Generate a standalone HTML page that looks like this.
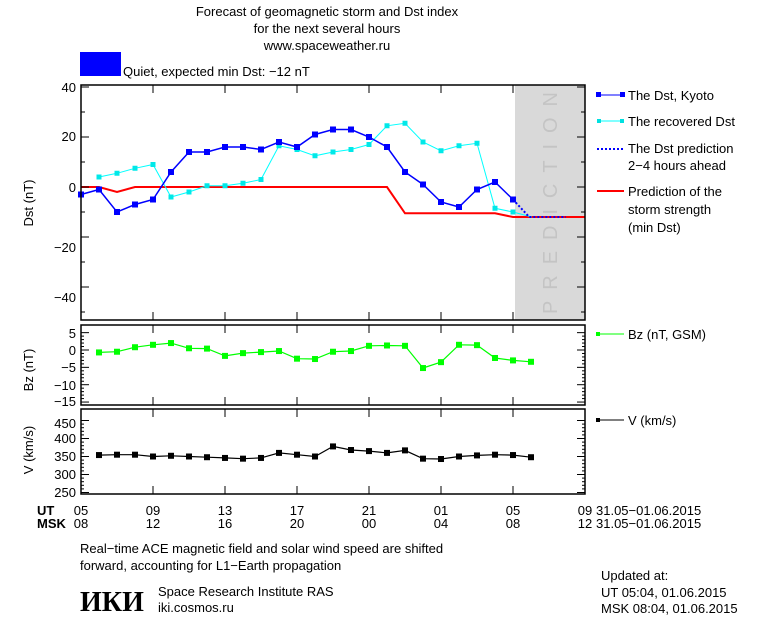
<!DOCTYPE html>
<html><head><meta charset="utf-8"><style>
html,body{margin:0;padding:0;background:#fff;width:760px;height:620px;overflow:hidden}
svg{display:block}
text{font-family:"Liberation Sans",sans-serif;font-size:13px;fill:#000}
</style></head><body>
<svg id="s" width="760" height="620" xmlns="http://www.w3.org/2000/svg">
<text x="327" y="16" text-anchor="middle" font-size="14">Forecast of geomagnetic storm and Dst index</text>
<text x="327" y="33" text-anchor="middle" font-size="14">for the next several hours</text>
<text x="327" y="50" text-anchor="middle" font-size="14">www.spaceweather.ru</text>
<rect x="80" y="52" width="41" height="24" fill="#0000ff"/>
<text x="123" y="76" font-size="14">Quiet, expected min Dst: −12 nT</text>
<rect x="515" y="85" width="70" height="235" fill="#d9d9d9"/>
<text transform="translate(557,314) rotate(-90)" font-size="20" textLength="222" lengthAdjust="spacing" style="fill:#c4c4c4;font-size:20px">PREDICTION</text>
<g id="g"></g>
<text transform="translate(33,203) rotate(-90)" text-anchor="middle">Dst (nT)</text>
<text transform="translate(33,370) rotate(-90)" text-anchor="middle">Bz (nT)</text>
<text transform="translate(33,450) rotate(-90)" text-anchor="middle">V (km/s)</text>
<g text-anchor="end">
<text x="76" y="92">40</text><text x="76" y="141">20</text><text x="76" y="192">0</text><text x="76" y="252">−20</text><text x="76" y="302">−40</text>
<text x="76" y="338">5</text><text x="76" y="355">0</text><text x="76" y="372">−5</text><text x="76" y="390">−10</text><text x="76" y="406">−15</text>
<text x="76" y="428">450</text><text x="76" y="443">400</text><text x="76" y="461">350</text><text x="76" y="479">300</text><text x="76" y="497">250</text>
</g>
<g font-weight="bold" font-size="12"><text x="37" y="515">UT</text><text x="37" y="528">MSK</text></g>
<g text-anchor="middle">
<text x="81" y="515">05</text><text x="153" y="515">09</text><text x="225" y="515">13</text><text x="297" y="515">17</text><text x="369" y="515">21</text><text x="441" y="515">01</text><text x="513" y="515">05</text><text x="585" y="515">09</text>
<text x="81" y="528">08</text><text x="153" y="528">12</text><text x="225" y="528">16</text><text x="297" y="528">20</text><text x="369" y="528">00</text><text x="441" y="528">04</text><text x="513" y="528">08</text><text x="585" y="528">12</text>
</g>
<text x="596" y="515">31.05−01.06.2015</text><text x="596" y="528">31.05−01.06.2015</text>
<text x="80" y="553">Real−time ACE magnetic field and solar wind speed are shifted</text>
<text x="80" y="570">forward, accounting for L1−Earth propagation</text>
<text x="80" y="611" style="font-family:'Liberation Serif',serif;font-size:28px;font-weight:bold">ИКИ</text>
<text x="158" y="596">Space Research Institute RAS</text>
<text x="158" y="612">iki.cosmos.ru</text>
<text x="601" y="580">Updated at:</text>
<text x="601" y="597">UT   05:04, 01.06.2015</text>
<text x="601" y="613">MSK 08:04, 01.06.2015</text>
<g>
<line x1="597" y1="95" x2="624" y2="95" stroke="#0000ff"/><rect x="596" y="92" width="5" height="5" fill="#0000ff"/><rect x="620" y="92" width="5" height="5" fill="#0000ff"/>
<text x="628" y="100">The Dst, Kyoto</text>
<line x1="597" y1="121" x2="624" y2="121" stroke="#00ffff"/><rect x="597" y="119" width="4" height="4" fill="#00e0e0"/><rect x="620" y="119" width="4" height="4" fill="#00e0e0"/>
<text x="628" y="126">The recovered Dst</text>
<line x1="597" y1="149" x2="624" y2="149" stroke="#0000ff" stroke-width="2" stroke-dasharray="2,2"/>
<text x="628" y="153">The Dst prediction</text><text x="628" y="170">2−4 hours ahead</text>
<line x1="597" y1="191" x2="624" y2="191" stroke="#ff0000" stroke-width="2"/>
<text x="628" y="196">Prediction of the</text><text x="628" y="214">storm strength</text><text x="628" y="232">(min Dst)</text>
<line x1="597" y1="334" x2="624" y2="334" stroke="#00ff00"/><rect x="596" y="332" width="4" height="4" fill="#00ff00"/>
<text x="628" y="339">Bz (nT, GSM)</text>
<line x1="597" y1="420" x2="624" y2="420" stroke="#000"/><rect x="596" y="418" width="4" height="4" fill="#000"/>
<text x="628" y="425">V (km/s)</text>
</g>
</svg>
<script>
var g=document.getElementById('g'),h='';
function X(i){return 81+i*18}
function poly(pts,c,w,extra){h+='<polyline fill="none" stroke="'+c+'" stroke-width="'+w+'" '+(extra||'')+' points="'+pts.map(p=>p[0].toFixed(1)+','+p[1].toFixed(1)).join(' ')+'"/>'}
function marks(pts,c,s){pts.forEach(p=>{h+='<rect x="'+(p[0]-s/2)+'" y="'+(p[1]-s/2)+'" width="'+s+'" height="'+s+'" fill="'+c+'"/>'})}
function D(v){return 187-2.5*v}
poly([[81,D(0)],[X(1),D(0)],[X(2),D(-2)],[X(3),D(0)],[X(17),D(0)],[X(18),D(-10.5)],[X(23),D(-10.5)],[X(24),D(-12)],[585,D(-12)]],'#ff0000',2);
var cy=[4,5.5,7.5,9,-4,-2,0.5,0.5,1.5,3,16.5,15,12.5,14,15,17,24.5,25.5,18,14.5,16.5,17.5,-8.5,-10];
var cp=cy.map((v,i)=>[X(i+1),D(v)]);cp.push([X(25.05),D(-12)]);
poly(cp,'#00ffff',1);marks(cp.slice(0,24),'#00e8e8',5);
var bl=[-3,-1,-10,-7,-5,6,14,14,16,16,15,18,16,21,23,23,20,16,6,1,-6,-8,-1,2,-5];
var bp=bl.map((v,i)=>[X(i),D(v)]);
poly(bp,'#0000ff',1.5);marks(bp,'#0000ff',6);
poly([[X(24),D(-5)],[X(24.9),D(-12)],[566,D(-12)]],'#0000ff',2,'stroke-dasharray="2,2"');
var bz=[-0.7,-0.5,0.8,1.5,2,0.5,0.4,-1.7,-0.9,-0.6,-0.3,-2.5,-2.6,-0.5,-0.3,1.2,1.3,1.2,-5.2,-3.5,1.5,1.4,-2.3,-3,-3.4];
var zp=bz.map((v,i)=>[X(i+1),350-3.47*v]);poly(zp,'#00ff00',1.2);marks(zp,'#00ff00',6);
var vv=[354,355,355,350,352,350,348,346,344,346,360,355,350,378,368,365,360,367,344,343,350,353,355,354,348];
var vp=vv.map((v,i)=>[X(i+1),456.5-0.36*(v-350)]);poly(vp,'#000',1.2);marks(vp,'#000',6);
function box(t,b){h+='<rect x="81" y="'+t+'" width="504" height="'+(b-t)+'" fill="none" stroke="#000" stroke-width="1.5"/>';
 for(var i=0;i<=7;i++){var x=81+i*72;h+='<line x1="'+x+'" y1="'+t+'" x2="'+x+'" y2="'+(t+8)+'" stroke="#000"/><line x1="'+x+'" y1="'+b+'" x2="'+x+'" y2="'+(b-8)+'" stroke="#000"/>';}}
function yt(ys,len){ys.forEach(y=>{h+='<line x1="81" y1="'+y+'" x2="'+(81+len)+'" y2="'+y+'" stroke="#000"/><line x1="585" y1="'+y+'" x2="'+(585-len)+'" y2="'+y+'" stroke="#000"/>'})}
box(85,320);box(325,405);box(409,494);
var a=[],b=[];for(var v=40;v>=-50;v-=10){(v%20==0?a:b).push(D(v))}yt(a,8);yt(b,4);
a=[];b=[];for(var v=5;v>=-15;v-=1){(v%5==0?a:b).push(350-3.47*v)}yt(a,8);yt(b,3);
a=[];b=[];for(var v=450;v>=250;v-=10){(v%50==0?a:b).push(456.5-0.36*(v-350))}yt(a,8);yt(b,3);
g.innerHTML=h;
</script>
</body></html>
